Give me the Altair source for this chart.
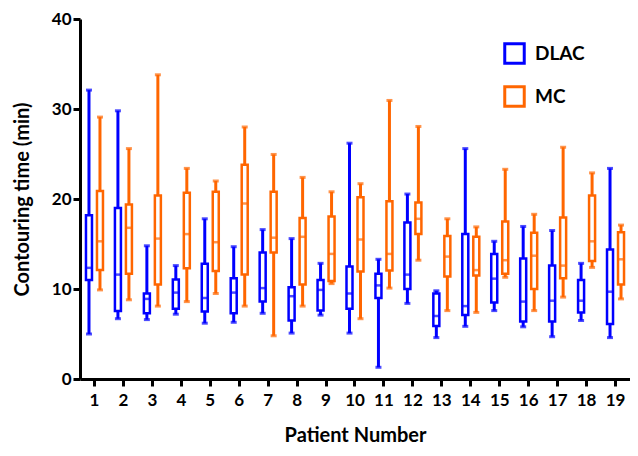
import altair as alt
import pandas as pd

patients = list(range(1, 20))
series = ["DLAC", "MC"]

dlac_min = [5.0, 6.7, 6.6, 7.2, 6.2, 6.3, 7.3, 5.1, 7.1, 5.1, 1.3, 8.4, 4.6, 5.85, 7.6, 5.8, 4.7, 6.5, 4.6]
dlac_q1 = [11.0, 7.55, 7.3, 7.8, 7.5, 7.3, 8.6, 6.5, 7.6, 7.8, 9.0, 10.0, 5.9, 7.1, 8.5, 6.4, 6.4, 7.4, 6.1]
dlac_med = [12.35, 11.6, 8.9, 9.6, 9.0, 9.6, 10.1, 9.2, 9.9, 9.5, 10.4, 11.6, 7.0, 8.1, 11.15, 8.6, 8.7, 8.7, 9.7]
dlac_q3 = [18.2, 19.0, 9.5, 11.05, 12.8, 11.2, 14.05, 10.2, 11.0, 12.5, 11.7, 17.4, 9.5, 16.1, 13.9, 13.4, 12.6, 11.0, 14.4]
dlac_max = [32.1, 29.8, 14.8, 12.6, 17.8, 14.7, 16.6, 15.6, 12.85, 26.2, 13.3, 20.55, 9.8, 25.6, 15.3, 16.95, 16.5, 12.85, 23.4]

mc_min = [9.9, 8.8, 8.1, 8.6, 9.5, 8.1, 4.8, 8.1, 10.6, 6.7, 10.1, 13.2, 7.6, 7.4, 11.3, 7.6, 9.1, 12.4, 8.9]
mc_q1 = [12.1, 11.7, 10.5, 12.3, 12.0, 11.6, 14.05, 10.5, 10.9, 11.95, 12.05, 16.1, 11.4, 11.5, 11.7, 10.0, 11.2, 13.1, 10.5]
mc_med = [15.3, 16.8, 15.6, 16.1, 15.2, 19.5, 15.7, 15.8, 13.9, 15.5, 13.9, 17.8, 13.6, 12.1, 13.2, 13.7, 12.6, 15.3, 13.3]
mc_q3 = [20.9, 19.4, 20.4, 20.7, 20.8, 23.8, 20.8, 17.9, 18.05, 20.2, 19.75, 19.6, 15.9, 15.8, 17.5, 16.25, 17.95, 20.4, 16.3]
mc_max = [29.1, 25.6, 33.8, 23.4, 22.0, 28.0, 24.95, 22.4, 20.8, 21.7, 30.95, 28.06, 17.8, 16.9, 23.3, 18.3, 25.75, 22.9, 17.1]

y_ticks = [0, 10, 20, 30, 40]
colors = ["#0000ff", "#ff6600"]

rows = []
for name, mn, q1, md, q3, mx in [
    ("DLAC", dlac_min, dlac_q1, dlac_med, dlac_q3, dlac_max),
    ("MC", mc_min, mc_q1, mc_med, mc_q3, mc_max),
]:
    for i, p in enumerate(patients):
        rows.append({"patient": p, "series": name, "grp": name, "min": mn[i], "q1": q1[i],
                     "median": md[i], "q3": q3[i], "max": mx[i]})
df = pd.DataFrame(rows)

FONT = "Lato"
PLOT_H = 360

x_enc = alt.X("patient:O", title="Patient Number",
              scale=alt.Scale(paddingInner=0, paddingOuter=0),
              axis=alt.Axis(labelAngle=0, labelFontSize=17, labelFontWeight="bold",
                            labelPadding=6, tickSize=7, tickWidth=3, domainWidth=3,
                            domainColor="black", tickColor="black", labelColor="black",
                            titleFontSize=20, titleFontWeight="bold", titleColor="black",
                            titleY=62, titleBaseline="alphabetic"))
xo_enc = alt.XOffset("series:N", sort=series,
                     scale=alt.Scale(paddingInner=0, paddingOuter=0.316))

legend = alt.Legend(orient="none", legendX=423, legendY=23, title=None,
                    symbolType="square", symbolSize=380,
                    symbolStrokeWidth=3, symbolFillColor="white",
                    labelFontSize=19, labelFontWeight="bold",
                    labelColor="black", labelOffset=9,
                    rowPadding=10, padding=0)
stroke_enc = alt.Stroke("series:N", scale=alt.Scale(domain=series, range=colors),
                        legend=legend)
color_enc = alt.Color("grp:N", scale=alt.Scale(range=colors), legend=None)

y_axis = alt.Axis(values=y_ticks, grid=False, labelFontSize=17, labelFontWeight="bold",
                  labelPadding=2, tickSize=7, tickWidth=3, domainWidth=3,
                  domainColor="black", tickColor="black", labelColor="black",
                  titleFontSize=20, titleFontWeight="bold", titleColor="black",
                  titleX=-58, titleY=PLOT_H / 2, titleAngle=270, titleAlign="center",
                  titleBaseline="middle")
y_scale = alt.Scale(domain=[0, 40], nice=False)

base = alt.Chart(df)

box = base.mark_bar(filled=False, strokeWidth=2.5, size=6).encode(
    x=x_enc, xOffset=xo_enc,
    y=alt.Y("q1:Q", scale=y_scale, axis=y_axis, title="Contouring time (min)"),
    y2="q3:Q",
    stroke=stroke_enc,
)

whisker_lo = base.mark_rule(strokeWidth=3).encode(
    x=x_enc, xOffset=xo_enc, y=alt.Y("min:Q", scale=y_scale), y2="q1:Q",
    color=color_enc,
)
whisker_hi = base.mark_rule(strokeWidth=3).encode(
    x=x_enc, xOffset=xo_enc, y=alt.Y("q3:Q", scale=y_scale), y2="max:Q",
    color=color_enc,
)

cap_lo = base.mark_tick(orient="horizontal", size=6, thickness=3).encode(
    x=x_enc, xOffset=xo_enc, y=alt.Y("min:Q", scale=y_scale), color=color_enc,
)
cap_hi = base.mark_tick(orient="horizontal", size=6, thickness=3).encode(
    x=x_enc, xOffset=xo_enc, y=alt.Y("max:Q", scale=y_scale), color=color_enc,
)
median = base.mark_tick(orient="horizontal", size=7, thickness=2.5).encode(
    x=x_enc, xOffset=xo_enc, y=alt.Y("median:Q", scale=y_scale), color=color_enc,
)

chart = alt.layer(box, whisker_lo, whisker_hi, median, cap_lo, cap_hi).properties(
    width=550, height=PLOT_H,
    autosize=alt.AutoSizeParams(type="none"),
    padding={"left": 72, "top": 11, "right": 0, "bottom": 67},
).configure(font=FONT).configure_view(stroke=None)

chart.save("out.html", embed_options={"renderer": "svg", "actions": False})
